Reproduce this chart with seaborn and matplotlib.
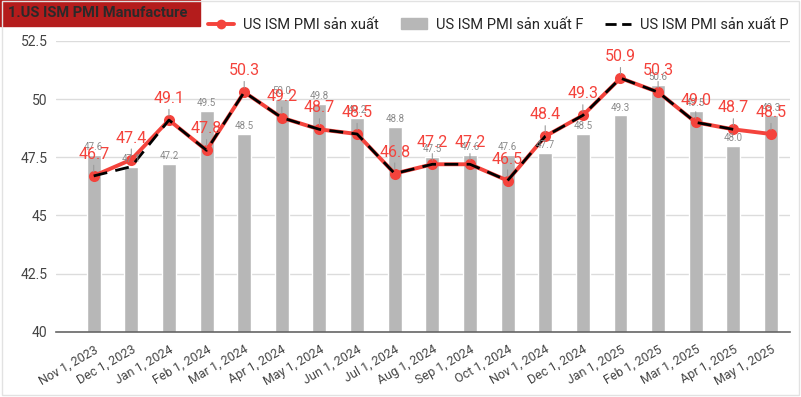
import numpy as np
import pandas as pd
import matplotlib
matplotlib.use("Agg")
import matplotlib.pyplot as plt
import matplotlib.patches as mpatches
from matplotlib.lines import Line2D
import seaborn as sns

# ── data ────────────────────────────────────────────────────────────────────
months = ["Nov 1, 2023", "Dec 1, 2023", "Jan 1, 2024", "Feb 1, 2024", "Mar 1, 2024",
          "Apr 1, 2024", "May 1, 2024", "Jun 1, 2024", "Jul 1, 2024", "Aug 1, 2024",
          "Sep 1, 2024", "Oct 1, 2024", "Nov 1, 2024", "Dec 1, 2024", "Jan 1, 2025",
          "Feb 1, 2025", "Mar 1, 2025", "Apr 1, 2025", "May 1, 2025"]
actual = [46.7, 47.4, 49.1, 47.8, 50.3, 49.2, 48.7, 48.5, 46.8, 47.2,
          47.2, 46.5, 48.4, 49.3, 50.9, 50.3, 49.0, 48.7, 48.5]
forecast = [47.6, 47.1, 47.2, 49.5, 48.5, 50.0, 49.8, 49.2, 48.8, 47.5,
            47.6, 47.6, 47.7, 48.5, 49.3, 50.6, 49.5, 48.0, 49.3]
previous = [46.7, 47.1, 49.1, 47.8, 50.3, 49.2, 48.7, 48.5, 46.8, 47.2,
            47.2, 46.5, 48.4, 49.3, 50.9, 50.3, 49.0, 48.7, np.nan]

y_ticks = [40, 42.5, 45, 47.5, 50, 52.5]
title = "1.US ISM PMI Manufacture"
lbl_main = "US ISM PMI sản xuất"
lbl_f = "US ISM PMI sản xuất F"
lbl_p = "US ISM PMI sản xuất P"

RED = "#f4433c"
GREY_BAR = "#b7b7b7"

sns.set_theme(style="white")
plt.rcParams["font.family"] = ["Roboto", "DejaVu Sans"]

df = pd.DataFrame({"month": months, "actual": actual,
                   "forecast": forecast, "previous": previous})
df["pos"] = np.arange(len(df))

fig = plt.figure(figsize=(8.01, 3.97), dpi=100)
ax = fig.add_axes([0.07, 0.164, 0.916, 0.733])

sns.barplot(data=df, x="month", y="forecast", color=GREY_BAR, width=0.37,
            saturation=1, ax=ax, zorder=2)
sns.lineplot(data=df, x="pos", y="actual", color=RED, lw=2.8, marker="o",
             markersize=8, markeredgewidth=0, ax=ax, zorder=3)
ax.plot(df["pos"], df["previous"], color="black", lw=2, dashes=(5, 3), zorder=4)

# labels for bars
for i, v in enumerate(forecast):
    ax.text(i, v + 0.12, f"{v:.1f}", ha="center", va="bottom", fontsize=7,
            color="#8a8a8a", zorder=5)

# labels for actual line with leader lines
for i, v in enumerate(actual):
    ax.annotate(f"{v:.1f}", xy=(i, v), xytext=(0, 10), textcoords="offset points",
                ha="center", va="bottom", fontsize=11.5, color=RED, zorder=6,
                arrowprops=dict(arrowstyle="-", color="#9a9a9a", lw=0.8,
                                shrinkA=0, shrinkB=3))

ax.set_xlim(-1, len(months) - 0.5)
ax.set_ylim(40, 52.5)
ax.set_yticks(y_ticks)
ax.set_yticklabels([f"{t:g}" for t in y_ticks], fontsize=10, color="#444444")
ax.set_xticks(range(len(months)))
ax.set_xticklabels(months, rotation=30, ha="right", rotation_mode="anchor",
                   fontsize=9, color="#444444")
ax.tick_params(axis="both", length=0, pad=6)
ax.tick_params(axis="x", pad=8)
ax.set_xlabel("")
ax.set_ylabel("")
ax.grid(axis="y", color="#dcdcdc", lw=1, zorder=0)
ax.set_axisbelow(True)
for s in ["top", "right", "left"]:
    ax.spines[s].set_visible(False)
ax.spines["bottom"].set_color("#666666")
ax.spines["bottom"].set_linewidth(1.2)

# title box
fig.patches.append(mpatches.Rectangle((0, 0.935), 0.25, 0.065, transform=fig.transFigure,
                                      color="#b41c1c", zorder=1))
fig.text(0.01, 0.967, title, fontsize=10.5, fontweight="bold", color="#2a2a2a",
         va="center", ha="left")

# figure border
fig.patches.append(mpatches.Rectangle((0.002, 0.004), 0.996, 0.994, transform=fig.transFigure,
                                      fill=False, edgecolor="#e2e2e2", lw=1))

handles = [
    Line2D([0], [0], color=RED, lw=2.8, marker="o", markersize=7, markeredgewidth=0),
    mpatches.Patch(color=GREY_BAR),
    Line2D([0], [0], color="black", lw=2, dashes=(4, 2)),
]
fig.legend(handles, [lbl_main, lbl_f, lbl_p], ncol=3, loc="center left",
           bbox_to_anchor=(0.256, 0.938), frameon=False, fontsize=10.5,
           handlelength=1.8, columnspacing=1.5, handletextpad=0.6,
           borderaxespad=0, borderpad=0.2)

fig.savefig("out.png", dpi=100)
